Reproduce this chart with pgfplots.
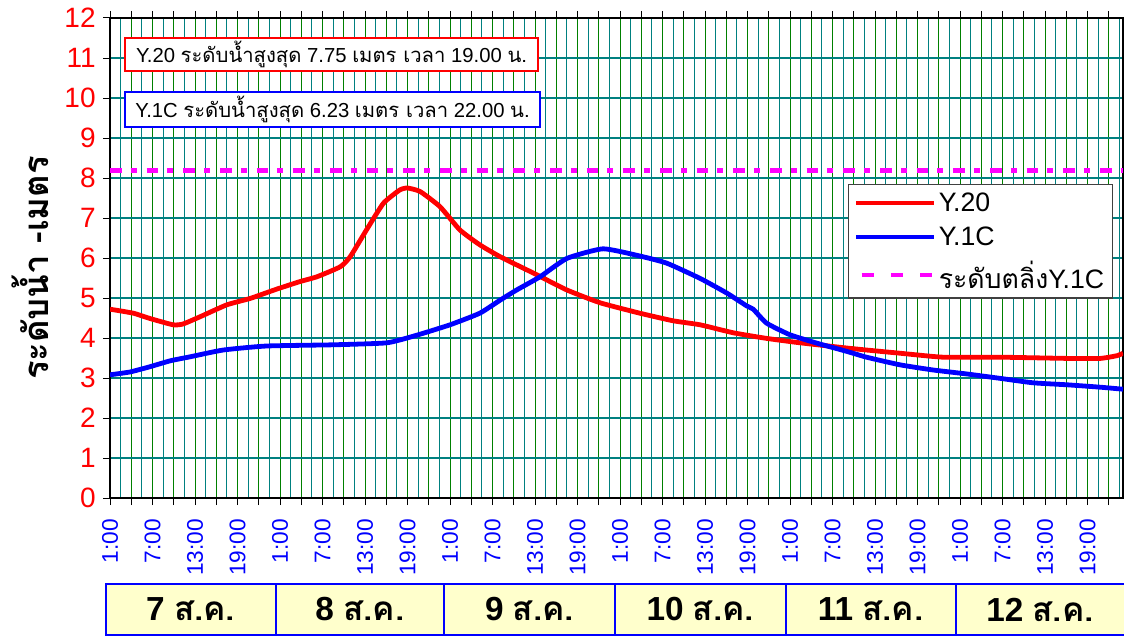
\documentclass[border=0pt]{standalone}
\usepackage{pgfplots}
\pgfplotsset{compat=1.18}
\usepackage{fontspec}
\setmainfont{Liberation Sans}
\newfontfamily\thai[Script=Thai]{Loma}
\definecolor{gridgreen}{RGB}{0,128,0}
\definecolor{gridteal}{RGB}{0,128,128}
\definecolor{boxyellow}{RGB}{255,255,204}
\definecolor{mag}{RGB}{255,0,255}
\begin{document}
\begin{tikzpicture}[x=0.75pt,y=0.75pt]
\useasboundingbox (0,0) rectangle (1124,637);
\begin{axis}[
  at={(82.5pt,104.25pt)}, anchor=south west, scale only axis,
  width=759.75pt, height=360pt,
  xmin=0, xmax=143, ymin=0, ymax=12,
  ytick={0,1,...,12},
  xtick={0,3,...,141},
  xticklabels={1:00,{},7:00,{},13:00,{},19:00,{},1:00,{},7:00,{},13:00,{},19:00,{},1:00,{},7:00,{},13:00,{},19:00,{},1:00,{},7:00,{},13:00,{},19:00,{},1:00,{},7:00,{},13:00,{},19:00,{},1:00,{},7:00,{},13:00,{},19:00,{}},
  minor xtick={1.5,4.5,...,142.5},
  grid=both,
  major x grid style={gridgreen, line width=0.75pt},
  minor x grid style={gridteal, line width=0.75pt},
  major y grid style={gridteal, line width=0.9pt},
  tick align=outside,
  major tick length=5.25pt,
  minor tick length=0pt,
  tick style={black, line width=0.75pt},
  axis line style={black, line width=1.5pt},
  /pgf/number format/assume math mode=true,
  yticklabel style={text=red, font=\fontsize{21}{21}\selectfont, xshift=-2pt},
  xticklabel style={text=blue, rotate=90, anchor=east, xshift=-7pt, font=\fontsize{17}{17}\selectfont},
  legend style={at={(0.7285,0.654)}, anchor=north west, draw=black!75, line width=1pt,
    fill=white, font=\fontsize{20}{20}\selectfont, row sep=6pt, inner sep=4pt},
  legend cell align=left,
  legend image code/.code={\draw[#1] (0pt,0pt) -- (58pt,0pt);},
]
\addplot[red, line width=3.6pt, smooth, tension=0.3] coordinates {
(0,4.72)(3.3,4.62)(5.6,4.49)(8.9,4.33)(10.3,4.35)(12.7,4.53)(16.5,4.83)(19.8,4.99)
(23.5,5.22)(26.8,5.41)(29.2,5.53)(32.5,5.78)(33.9,6.03)(36.2,6.7)(38.6,7.37)(40.9,7.7)
(42,7.75)(43.8,7.66)(46.6,7.28)(49.4,6.7)(52.2,6.33)(55.1,6.03)(59.8,5.62)(64.5,5.2)
(69.2,4.88)(74.8,4.62)(79.5,4.43)(83.3,4.33)(88,4.13)(92.7,3.99)(97.4,3.88)(104.5,3.74)
(109.1,3.66)(111.5,3.62)(117.6,3.52)(125.7,3.52)(135.1,3.49)(139.8,3.49)(142.2,3.56)(143,3.62)};
\addlegendentry{Y.20}
\addplot[blue, line width=3.6pt, smooth, tension=0.3] coordinates {
(0,3.08)(2.8,3.15)(5.6,3.28)(8.5,3.43)(11.3,3.53)(16,3.7)(22.1,3.8)(31.5,3.83)(39.1,3.88)
(43.3,4.07)(48,4.33)(52.2,4.62)(55.1,4.95)(57.4,5.2)(60.7,5.53)(64.5,5.99)(69.6,6.23)
(74.8,6.05)(78.6,5.87)(83.3,5.49)(87.1,5.12)(89.9,4.8)(90.8,4.72)(92.7,4.37)(96,4.08)
(99.8,3.87)(103.1,3.71)(104.5,3.64)(106.8,3.52)(111.5,3.33)(116.2,3.2)(121,3.1)
(125.7,2.99)(130.3,2.88)(135.1,2.83)(139.8,2.77)(143,2.72)};
\addlegendentry{Y.1C}
\addplot[mag, line width=3.75pt, dash pattern=on 8.75pt off 6.75pt on 4.5pt off 7.5pt,
  legend image code/.code={\draw[mag, line width=3.2pt, dash pattern=on 9pt off 13pt] (4pt,0pt) -- (58pt,0pt);}]
  coordinates {(0,8.2)(143,8.2)};
\addlegendentry{{\thai ระดับตลิ่ง}Y.1C}
\end{axis}
% annotation boxes
\node[draw=red, line width=1.5pt, fill=white, minimum width=309.75pt, minimum height=24.75pt, inner sep=0pt,
  font=\fontsize{15.2}{15.2}\selectfont] at (331.5,582.5)
  {Y.20 {\thai ระดับน้ำสูงสุด} 7.75 {\thai เมตร เวลา} 19.00 {\thai น.}};
\node[draw=blue, line width=1.5pt, fill=white, minimum width=311.25pt, minimum height=26.25pt, inner sep=0pt,
  font=\fontsize{15.2}{15.2}\selectfont] at (332.5,527.5)
  {Y.1C {\thai ระดับน้ำสูงสุด} 6.23 {\thai เมตร เวลา} 22.00 {\thai น.}};
% y label
\node[rotate=90, font=\thai\bfseries\fontsize{26}{26}\selectfont] at (30,369) {ระดับน้ำ -เมตร};
% date boxes
\draw[blue, line width=1.5pt, fill=boxyellow] (105.7,2) rectangle (1126,53);
\foreach \xx in {275.7,444,615,785.7,955.7} {\draw[blue, line width=1.5pt] (\xx,2) -- (\xx,53);}
\foreach \xx/\tt in {190.7/7,359.8/8,529.5/9,700.3/10,870.7/11,1040/12} {
  \node[font=\bfseries\fontsize{25}{25}\selectfont] at (\xx,27.5) {\tt\ {\thai ส.ค.}};
}
\end{tikzpicture}
\end{document}
